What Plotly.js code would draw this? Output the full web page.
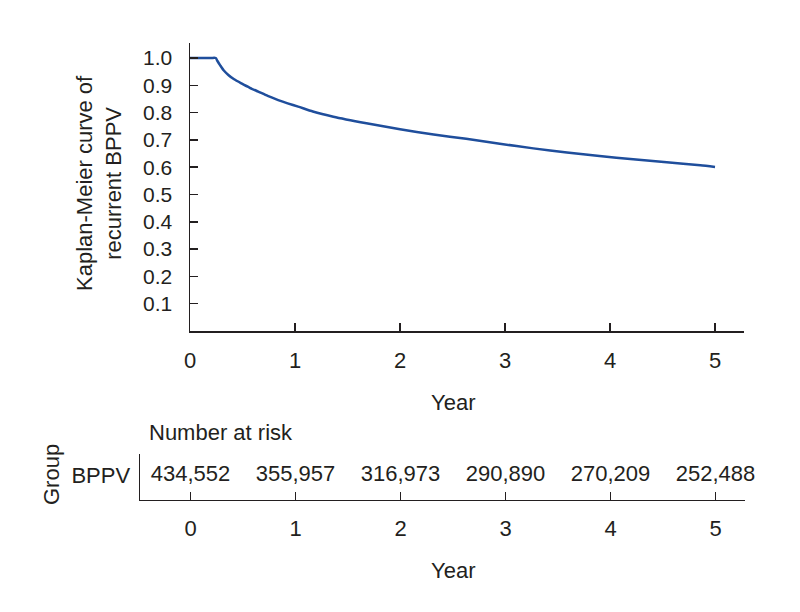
<!DOCTYPE html>
<html>
<head>
<meta charset="utf-8">
<script src="https://cdn.plot.ly/plotly-3.0.1.min.js"></script>
<style>html,body{margin:0;padding:0;background:#fff;}#chart{width:800px;height:612px;}</style>
</head>
<body>
<div id="chart"></div>
<script>
// Kaplan-Meier curve
const years = [0, 0.2, 0.245, 0.26, 0.286, 0.32, 0.365, 0.42, 0.49, 0.57, 0.65, 0.74, 0.84, 0.93, 1.03, 1.17, 1.365, 1.68, 2.0, 2.32, 2.63, 2.95, 3.27, 3.59, 3.9, 4.22, 4.54, 4.86, 5.0];
const survival = [1.0, 1.0, 1.0, 0.99, 0.974, 0.955, 0.938, 0.922, 0.907, 0.891, 0.877, 0.861, 0.846, 0.834, 0.822, 0.804, 0.785, 0.761, 0.739, 0.720, 0.704, 0.686, 0.669, 0.654, 0.641, 0.629, 0.618, 0.607, 0.601];
// Number at risk table
const riskYears = [0, 1, 2, 3, 4, 5];
const riskCounts = ["434,552", "355,957", "316,973", "290,890", "270,209", "252,488"];
const groupName = "BPPV";
const yTicks = [0.1, 0.2, 0.3, 0.4, 0.5, 0.6, 0.7, 0.8, 0.9, 1.0];
const yTickText = ["0.1", "0.2", "0.3", "0.4", "0.5", "0.6", "0.7", "0.8", "0.9", "1.0"];

const FONT = '"Liberation Sans", Arial, Helvetica, sans-serif';
const TXT = '#231f20';
const AX = '#231f20';
const FS = 22;

const traces = [
  {
    x: years, y: survival, type: 'scatter', mode: 'lines',
    line: {color: '#1f4e9c', width: 2.5, shape: 'spline', smoothing: 0.6},
    xaxis: 'x', yaxis: 'y', hoverinfo: 'skip', showlegend: false
  },
  {
    x: riskYears, y: riskYears.map(() => 0.53), text: riskCounts,
    type: 'scatter', mode: 'text', textposition: 'middle center', cliponaxis: false,
    textfont: {family: FONT, size: FS, color: TXT},
    xaxis: 'x2', yaxis: 'y2', hoverinfo: 'skip', showlegend: false
  }
];

const layout = {
  width: 800, height: 612,
  margin: {l: 0, r: 0, t: 0, b: 0},
  paper_bgcolor: '#fff', plot_bgcolor: '#fff',
  font: {family: FONT, size: FS, color: TXT},
  showlegend: false,
  xaxis: {
    domain: [190/800, 744/800], range: [0, 5.276],
    tickvals: riskYears, ticktext: riskYears.map(String),
    ticks: 'inside', ticklen: 8, tickwidth: 1.5, tickcolor: AX,
    showline: true, linecolor: AX, linewidth: 1.5,
    showgrid: false, zeroline: false, ticklabelstandoff: 9,
    tickfont: {family: FONT, size: FS, color: TXT}, fixedrange: true
  },
  yaxis: {
    domain: [(612-331)/612, (612-43)/612], range: [0, 1.055],
    tickvals: yTicks, ticktext: yTickText,
    ticks: 'inside', ticklen: 8, tickwidth: 1.5, tickcolor: AX,
    showline: true, linecolor: AX, linewidth: 1.5,
    showgrid: false, zeroline: false, ticklabelstandoff: 12,
    tickfont: {family: FONT, size: 21, color: TXT}, fixedrange: true
  },
  xaxis2: {
    domain: [140/800, 745/800], range: [-0.481, 5.281], anchor: 'y2',
    tickvals: riskYears, ticktext: riskYears.map(String),
    ticks: 'inside', ticklen: 8, tickwidth: 1.5, tickcolor: AX,
    showline: true, linecolor: AX, linewidth: 1.5,
    showgrid: false, zeroline: false, ticklabelstandoff: 9,
    tickfont: {family: FONT, size: FS, color: TXT}, fixedrange: true
  },
  yaxis2: {
    domain: [(612-499.5)/612, (612-454)/612], range: [0, 1], anchor: 'x2',
    tickvals: [0.53], ticktext: [groupName], ticks: '',
    showline: true, linecolor: AX, linewidth: 1.5,
    showgrid: false, zeroline: false, ticklabelstandoff: 4,
    tickfont: {family: FONT, size: FS, color: TXT}, fixedrange: true
  },
  annotations: [
    {text: 'Kaplan-Meier curve of<br>recurrent BPPV', xref: 'paper', yref: 'paper',
     x: 99/800, y: (612-183)/612, textangle: -90, showarrow: false,
     xanchor: 'center', yanchor: 'middle', font: {family: FONT, size: FS, color: TXT}},
    {text: 'Year', xref: 'x', yref: 'paper', x: 2.5, y: (612-402)/612,
     showarrow: false, xanchor: 'center', yanchor: 'middle',
     font: {family: FONT, size: FS, color: TXT}},
    {text: 'Number at risk', xref: 'paper', yref: 'paper', x: 147/800, y: (612-433)/612,
     showarrow: false, xanchor: 'left', yanchor: 'middle',
     font: {family: FONT, size: FS, color: TXT}},
    {text: 'Group', xref: 'paper', yref: 'paper', x: 51/800, y: (612-475)/612,
     textangle: -90, showarrow: false, xanchor: 'center', yanchor: 'middle',
     font: {family: FONT, size: FS, color: TXT}},
    {text: 'Year', xref: 'x2', yref: 'paper', x: 2.5, y: (612-570)/612,
     showarrow: false, xanchor: 'center', yanchor: 'middle',
     font: {family: FONT, size: FS, color: TXT}}
  ]
};

Plotly.newPlot('chart', traces, layout, {displayModeBar: false, staticPlot: true});
</script>
</body>
</html>
